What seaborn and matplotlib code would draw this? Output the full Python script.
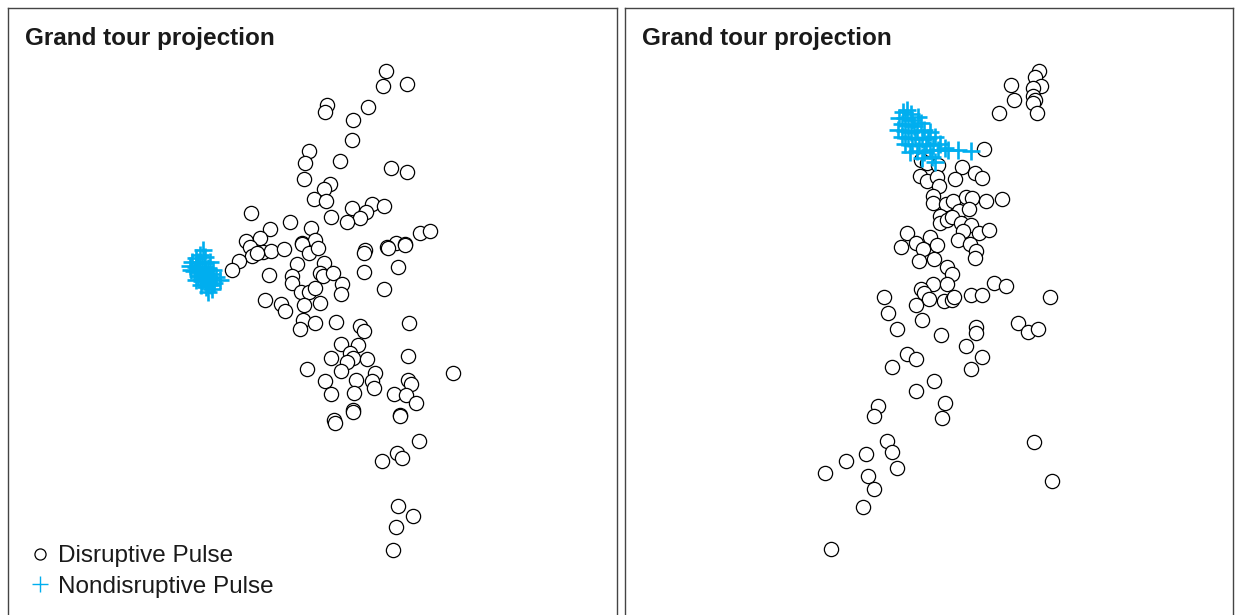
import numpy as np
import pandas as pd
import matplotlib
matplotlib.use("Agg")
import matplotlib.pyplot as plt
from matplotlib.lines import Line2D
import seaborn as sns

# Projected coordinates (screen units, y grows downward)
left_disr_x = [386.3, 383, 406.7, 326.7, 325, 367.7, 353.3, 351.7, 309.3, 305, 340, 390.7, 407.3,
               304, 330, 324.3, 314, 326, 331, 351.7, 371.7, 384, 365.7, 360.3, 347.3, 251, 290.3,
               270, 310.7, 420, 430, 245.7, 260, 301.7, 315, 396, 404.7, 387.3, 364.7,
               250, 262.7, 270.7, 284, 251.7, 256.7, 239.3, 231.7, 301.7, 308.7, 317.7, 297.3,
               324, 320, 322.7, 333.3, 268.7, 292, 292, 341.7, 341.3, 364.3, 364.3, 388, 404.7,
               398, 384.3, 300.7, 309.3, 315, 320, 304.3, 265.3, 281, 285, 302.7, 300, 315, 336,
               359.7, 364.3, 408.7, 340.7, 358.3, 350, 353.3, 346.7, 331, 366.7, 408, 306.7,
               341.3, 375, 325.3, 355.7, 371.7, 374.3, 408, 410.7, 452.7, 331, 354.3, 393.7,
               406, 416.3, 353, 400, 334, 334.7, 352.7, 399.7, 419, 397.3, 402, 381.7, 397.7,
               412.7, 396, 393.3]
left_disr_y = [70.7, 85.7, 83.7, 105, 112.3, 107, 120, 140.3, 151.3, 163, 160.7, 168, 172.3,
               179.3, 184, 189, 199.3, 200.7, 217, 208.3, 204, 205.7, 211.7, 217.7, 222, 213.3,
               221.7, 229, 228.3, 233.3, 231.3, 241, 237.7, 242.7, 240, 242.7, 243.7, 246.7, 250,
               246.7, 251.7, 250.7, 249.3, 256, 253.3, 261, 270, 244, 252.7, 247.7, 264,
               262.7, 272.7, 276, 273.3, 275, 276, 282.7, 284.3, 294, 253.3, 272.3, 248.3, 245.3,
               266.7, 288.7, 291.7, 291.7, 288.3, 303.3, 305.3, 300, 304, 310.7, 320, 329.3, 323.3,
               322, 325.7, 331, 323.3, 344.3, 344.7, 352.7, 358.3, 361.7, 358.3, 359.3, 356.3, 369,
               371, 373.3, 381, 380, 380.7, 387.7, 379.7, 384.3, 372.7, 393.7, 393, 393.7,
               394.7, 402.7, 409.7, 415, 420, 423.3, 411.7, 416, 440.7, 453.3, 457.7, 460.7,
               505.7, 516, 526.7, 550]

left_non_x = [203, 200, 196, 205, 192, 198, 204, 210, 190, 196, 202, 208, 213, 194, 200, 206,
              212, 198, 204, 210, 216, 220, 202, 208, 214, 206, 212, 208, 196, 191, 199, 205,
              207, 211, 201]
left_non_y = [250, 255, 258, 257, 262, 262, 263, 262, 266, 267, 267, 268, 270, 271, 272, 273,
              274, 276, 277, 278, 277, 280, 281, 283, 283, 287, 289, 292, 280, 270, 269, 270,
              280, 285, 285]

right_disr_x = [1038.7, 1035.3, 1010.7, 1041, 1033.3, 1032.7, 1013.7, 1035, 1033.3, 1036.7, 999,
                983.7, 920.7, 926.7, 938, 961.7, 974.7, 981.7, 920.3, 926.7, 937, 955.3, 939,
                933.3, 933.3, 945.7, 953.3, 966, 972.3, 986.3, 1002, 959.3, 968.7, 940, 940,
                946.7, 952, 960.7, 970.7, 979, 989, 963.3, 907, 930, 957.7, 901, 915.7, 937.3,
                969.7, 975.7, 975.3, 923.3, 918.7, 934.3, 947.3, 952, 933, 946.7, 921.3, 923.7,
                928.7, 916, 944.3, 952, 954, 970.7, 982, 993.7, 1005.7, 1049.7, 884, 888, 922.3,
                897, 940.7, 976, 976.3, 966, 1018.3, 1027.7, 1037.7, 907.3, 916, 982, 891.7,
                970.7, 933.7, 915.7, 944.7, 878.3, 874, 942.3, 1034.3, 1052.3, 887, 891.7,
                866.3, 845.7, 824.7, 897, 867.7, 874, 863, 831]
right_disr_y = [70.7, 76.7, 85, 85.7, 87.7, 96, 99.7, 100, 103.3, 112.7, 113.3, 149.3, 160,
                163.3, 164.7, 166.7, 173.3, 178.3, 176, 180.7, 176.7, 179.3, 185.7, 195.7, 203.3,
                204, 201, 196.7, 197.7, 201, 199, 211, 209, 216, 223.3, 220, 216.7, 223.3, 225,
                232.7, 230, 230.7, 233, 237.3, 240, 246.7, 243.3, 245, 244, 251, 257.7, 249.3,
                261, 259.3, 267.3, 274.3, 283.7, 283.7, 289, 293, 299.3, 304.7, 301, 300, 297.3,
                295.3, 295.3, 283, 285.7, 297.3, 296.7, 312.7, 320.3, 329, 335.3, 326.7, 333.3,
                346, 322.7, 332.3, 329, 354.3, 359, 356.7, 367.3, 368.7, 381.3, 391, 402.7,
                406.3, 416, 418.3, 441.7, 481, 441.3, 452, 453.7, 461, 472.7, 468.3, 476.3,
                489.3, 507.3, 549.3]

right_non_x = [903, 907, 911, 899, 905, 912, 918, 902, 908, 914, 921, 898, 905, 911, 917, 924,
               930, 902, 908, 915, 922, 928, 935, 905, 912, 919, 926, 933, 940, 910, 917, 924,
               930, 938, 945, 948, 932, 922, 935, 971, 958]
right_non_y = [112, 110, 114, 118, 118, 120, 117, 124, 125, 126, 123, 130, 131, 132, 131, 130,
               132, 137, 138, 138, 139, 138, 137, 144, 145, 145, 144, 145, 144, 152, 151, 152,
               150, 150, 148, 150, 157, 158, 162, 151, 150]

W, H = 1236, 615
BLUE = "#00aeef"

sns.set_style("white")
plt.rcParams["font.family"] = ["Liberation Sans", "DejaVu Sans"]

fig = plt.figure(figsize=(W / 100, H / 100), dpi=100)

panels = [
    (8, 617, left_disr_x, left_disr_y, left_non_x, left_non_y, True),
    (625, 1233, right_disr_x, right_disr_y, right_non_x, right_non_y, False),
]

for x0, x1, dx, dy, nx, ny, show_leg in panels:
    ax = fig.add_axes([x0 / W, 0, (x1 - x0) / W, (H - 8) / H])
    disr = pd.DataFrame({"x": dx, "y": dy})
    non = pd.DataFrame({"x": nx, "y": ny})
    sns.scatterplot(data=disr, x="x", y="y", marker="o", s=105, facecolor="white",
                    edgecolor="black", linewidth=0.9, ax=ax, zorder=2)
    sns.scatterplot(data=non, x="x", y="y", marker="+", s=170, color=BLUE,
                    linewidth=1.9, ax=ax, zorder=3)
    ax.set_xlim(x0, x1)
    ax.set_ylim(H, 8)
    ax.set_xticks([])
    ax.set_yticks([])
    ax.set_xlabel("")
    ax.set_ylabel("")
    for side in ["left", "right", "top"]:
        ax.spines[side].set_visible(True)
        ax.spines[side].set_color("#444444")
        ax.spines[side].set_linewidth(1.0)
    ax.spines["bottom"].set_visible(False)
    ax.text(x0 + 17, 38.5, "Grand tour projection", fontsize=17.5, fontweight="bold",
            va="center", ha="left", color="#1a1a1a")
    if show_leg:
        handles = [
            Line2D([], [], marker="o", linestyle="none", markersize=8,
                   markerfacecolor="white", markeredgecolor="black", markeredgewidth=0.9),
            Line2D([], [], marker="+", linestyle="none", markersize=12,
                   color=BLUE, markeredgewidth=1.0),
        ]
        ax.legend(handles, ["Disruptive Pulse", "Nondisruptive Pulse"], loc="lower left",
                  bbox_to_anchor=(0.005, 0.0), frameon=False, fontsize=17.5,
                  handletextpad=0.25, handlelength=1.0, labelspacing=0.35,
                  labelcolor="#1a1a1a", borderaxespad=0.3)

fig.savefig("out.png", dpi=100)
